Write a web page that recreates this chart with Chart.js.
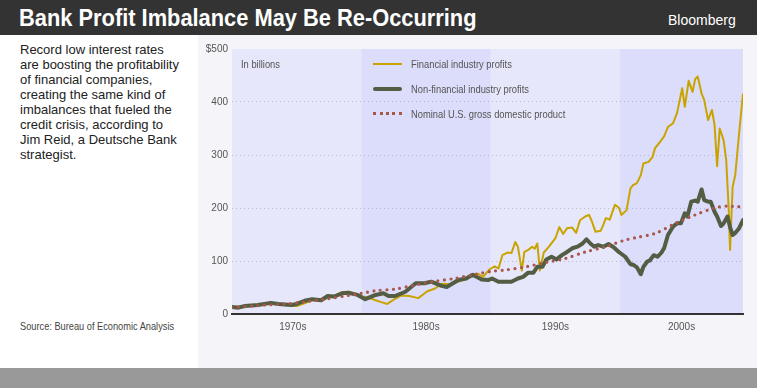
<!DOCTYPE html>
<html><head><meta charset="utf-8">
<script src="https://cdn.jsdelivr.net/npm/chart.js@4.4.1/dist/chart.umd.min.js"></script>
<style>
html,body{margin:0;padding:0;}
body{width:757px;height:388px;position:relative;overflow:hidden;background:#fff;font-family:"Liberation Sans",Arial,sans-serif;}
#hdr{position:absolute;left:0;top:0;width:757px;height:35px;background:#333;}
#title{position:absolute;left:19px;top:3px;font-family:"Liberation Sans",Arial,sans-serif;font-weight:bold;font-size:24px;color:#fff;line-height:30px;white-space:nowrap;transform:scaleX(0.91);transform-origin:0 0;}
#brand{position:absolute;left:668px;top:12px;font-size:14px;line-height:16px;color:#fff;white-space:nowrap;}
#panel{position:absolute;left:198px;top:35px;width:559px;height:333px;background:#f4f4f9;}
#foot{position:absolute;left:0;top:368px;width:757px;height:20px;background:#999;}
#blurb{position:absolute;left:20px;top:42px;font-size:13px;line-height:15px;color:#222;white-space:nowrap;}
#source{position:absolute;left:20px;top:320px;font-size:11px;line-height:12px;color:#444;white-space:nowrap;transform:scaleX(0.84);transform-origin:0 0;}
#chart{position:absolute;left:198px;top:35px;}
.lg{position:absolute;font-size:11px;line-height:12px;color:#555;white-space:nowrap;transform:scaleX(0.85);transform-origin:0 0;}
.sw{position:absolute;left:373px;width:29px;}
</style>
</head><body>
<div id="hdr"></div>
<div id="title">Bank Profit Imbalance May Be Re-Occurring</div>
<div id="brand">Bloomberg</div>
<div id="panel"></div>
<div id="foot"></div>
<div id="blurb">Record low interest rates<br>are boosting the profitability<br>of financial companies,<br>creating the same kind of<br>imbalances that fueled the<br>credit crisis, according to<br>Jim Reid, a Deutsche Bank<br>strategist.</div>
<div id="source">Source: Bureau of Economic Analysis</div>
<canvas id="chart" width="559" height="333"></canvas>
<div class="lg" style="left:241px;top:58px;">In billions</div>
<div class="sw" style="top:63px;height:2px;background:#c9a400;"></div>
<div class="lg" style="left:411px;top:58px;" id="lg0"></div>
<div class="sw" style="top:87px;height:4px;border-radius:2px;background:#535d43;"></div>
<div class="lg" style="left:411px;top:83px;" id="lg1"></div>
<div class="sw" style="top:112px;height:0;border-top:3px dotted #a8574b;"></div>
<div class="lg" style="left:411px;top:108px;" id="lg2"></div>
<script>
const seriesNames = ['Financial industry profits','Non-financial industry profits','Nominal U.S. gross domestic product'];
const decadeStarts = [1970,1980,1990,2000];
const decadeLabels = ['1970s','1980s','1990s','2000s'];
const decadeLabelPos = [1974.7,1985,1995,2004.75];
const yTicks = [0,100,200,300,400,500];

const finYears = [1970,1971,1972,1973,1973.6,1974.3,1975,1975.6,1976.2,1976.9,1977.4,1977.9,1978.5,1979,1979.6,1980.1,1980.5,1981.1,1981.6,1982,1982.5,1983.1,1983.7,1984.4,1985.1,1985.7,1986.2,1986.9,1987.5,1988,1988.5,1989,1989.4,1989.9,1990.3,1990.6,1990.9,1991.3,1991.6,1991.9,1992.1,1992.4,1992.6,1992.9,1993.2,1993.4,1993.6,1993.8,1994.1,1994.5,1995,1995.3,1995.6,1995.9,1996.3,1996.6,1996.9,1997.3,1997.6,1997.8,1998.1,1998.5,1998.7,1998.9,1999.2,1999.6,1999.9,2000.1,2000.5,2000.8,2001,2001.3,2001.6,2001.8,2002.2,2002.5,2002.7,2003.1,2003.4,2003.7,2004.1,2004.4,2004.8,2005,2005.3,2005.6,2005.8,2006,2006.3,2006.5,2006.8,2007.1,2007.3,2007.5,2007.7,2008,2008.2,2008.4,2008.5,2008.7,2008.9,2009.2,2009.5];
const finProfits = [13,15,17,21,19,16,15,20,26,26,33,34,41,42,38,33,31,26,22,19,27,35,34,30,43,48,57,56,61,65,73,76,70,84,90,86,111,116,115,136,127,82,117,121,127,123,133,82,116,127,143,164,151,162,163,153,177,184,187,176,155,157,168,181,178,206,201,187,196,237,243,247,262,284,287,296,313,325,335,353,360,379,426,391,440,419,443,448,416,404,366,385,357,279,350,328,291,196,121,240,262,341,416];

const nonFinYears = [1970,1970.5,1971,1972,1973,1973.6,1974.6,1975,1975.6,1976.2,1976.9,1977.4,1977.9,1978.5,1979,1979.7,1980.3,1981.1,1981.7,1982.1,1982.6,1983.4,1984.2,1984.9,1985.4,1986.2,1986.6,1987.5,1988.1,1988.6,1989.3,1989.8,1990.1,1990.6,1991.1,1991.6,1992.1,1992.5,1992.9,1993.3,1993.6,1994,1994.3,1994.7,1995.1,1995.5,1995.9,1996.3,1996.7,1997.1,1997.4,1997.7,1998,1998.3,1998.7,1999.1,1999.5,1999.9,2000.4,2000.8,2001,2001.3,2001.6,2001.8,2002.1,2002.3,2002.6,2002.9,2003.2,2003.4,2003.7,2004.1,2004.4,2004.7,2005,2005.2,2005.5,2005.8,2006,2006.3,2006.5,2006.8,2007,2007.3,2007.5,2007.8,2008,2008.3,2008.5,2008.7,2008.9,2009.2,2009.5];
const nonFinProfits = [13,12,15,17,21,19,17,19,25,28,26,34,33,39,40,36,28,36,39,34,34,42,58,58,61,53,51,64,67,74,65,64,67,61,61,61,67,70,78,78,89,89,103,108,103,111,117,124,127,133,141,133,127,130,127,132,126,117,108,94,93,88,75,89,99,101,111,108,116,124,149,165,171,171,190,184,212,214,212,235,215,212,212,193,184,166,171,184,164,149,153,162,177];

const gdpYears = [1970,1972,1974.6,1977.2,1979,1980,1981.1,1982.6,1984.2,1985.7,1987.2,1988.8,1990.2,1991.1,1992.7,1994.2,1995.8,1997.3,1998.9,2000.3,2001.2,2002.7,2004.2,2005.8,2007.3,2008.4,2009,2009.5];
const gdpValues = [12,16,20,28,35,39,44,47,55,62,67,75,81,83,89,97,105,117,127,139,144,152,170,187,200,204,202,204];

seriesNames.forEach((n,i)=>{document.getElementById('lg'+i).textContent=n;});

const pts = (xs, ys) => xs.map((x,i)=>({x:x, y:ys[i]}));

const bandPlugin = {
  id:'bands',
  beforeDraw(chart){
    const {ctx, chartArea:a, scales:{x}} = chart;
    ctx.save();
    for (let i=0;i<decadeStarts.length;i++){
      const x0 = x.getPixelForValue(decadeStarts[i]);
      const x1 = i+1<decadeStarts.length ? x.getPixelForValue(decadeStarts[i+1]) : a.right;
      ctx.fillStyle = i%2===0 ? '#e6e7fb' : '#dcdcfb';
      ctx.fillRect(x0, a.top, x1-x0, a.bottom-a.top);
    }
    ctx.restore();
  }
};

const tickFont = {family:'"Liberation Sans", Arial, sans-serif', size:10};

new Chart(document.getElementById('chart'), {
  type:'line',
  data:{datasets:[
    {label:seriesNames[2], data:pts(gdpYears,gdpValues), borderColor:'#a8574b', borderWidth:3.2, borderDash:[0,6.5], borderCapStyle:'round', pointRadius:0, tension:0.3, order:1},
    {label:seriesNames[1], data:pts(nonFinYears,nonFinProfits), borderColor:'#535d43', borderWidth:4, borderJoinStyle:'round', borderCapStyle:'round', pointRadius:0, tension:0, order:2},
    {label:seriesNames[0], data:pts(finYears,finProfits), borderColor:'#c9a400', borderWidth:2, borderJoinStyle:'round', pointRadius:0, tension:0, order:3}
  ]},
  options:{
    responsive:false, animation:false, devicePixelRatio:1, events:[],
    layout:{padding:{top:14,right:14,left:0,bottom:0}},
    plugins:{legend:{display:false}, tooltip:{enabled:false}},
    scales:{
      x:{type:'linear', min:1970, max:2009.5,
        afterFit(s){s.height=54;},
        afterBuildTicks(s){s.ticks = decadeLabelPos.map(v=>({value:v}));},
        grid:{display:false, drawTicks:false},
        border:{display:true, color:'#333', width:2},
        ticks:{autoSkip:false, maxRotation:0, padding:7, color:'#555', font:tickFont,
          callback:(v,i)=>decadeLabels[i]}
      },
      y:{min:0, max:500,
        afterFit(s){s.width=34;},
        afterBuildTicks(s){s.ticks = yTicks.map(v=>({value:v}));},
        grid:{drawTicks:false, lineWidth:1,
          color:(c)=> (c.tick && (c.tick.value===0 || c.tick.value===500)) ? 'rgba(0,0,0,0)' : 'rgba(150,150,175,0.55)'},
        border:{display:false, dash:[1,3]},
        ticks:{padding:4, color:'#555', font:tickFont,
          callback:(v)=> v===500 ? '$500' : String(v)}
      }
    }
  },
  plugins:[bandPlugin]
});
</script>
</body></html>
